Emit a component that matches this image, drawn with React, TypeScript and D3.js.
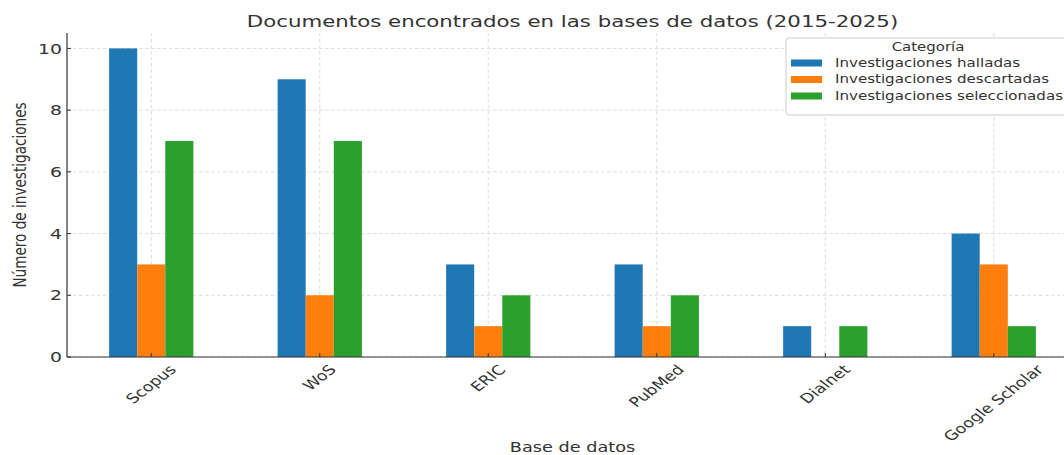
import { useEffect, useRef } from 'react'
import * as d3 from 'd3'

const categories = ['Scopus', 'WoS', 'ERIC', 'PubMed', 'Dialnet', 'Google Scholar']
const seriesNames = [
    'Investigaciones halladas',
    'Investigaciones descartadas',
    'Investigaciones seleccionadas'
]
const halladas = [10, 9, 3, 3, 1, 4]
const descartadas = [3, 2, 1, 1, 0, 3]
const seleccionadas = [7, 7, 2, 2, 1, 1]
const colors = ['#1f77b4', '#ff7f0e', '#2ca02c']
const yTicks = [0, 2, 4, 6, 8, 10]

const W = 1064
const H = 455
// the picture is wider than tall in its text, so glyphs get stretched sideways
const SX = 1.3

export default function App() {
    const svgRef = useRef<SVGSVGElement>(null)

    useEffect(() => {
        if (!svgRef.current) return
        const svg = d3.select(svgRef.current)
        svg.selectAll('*').remove()

        const left = 67, right = 1078, top = 33, bottom = 357
        const font = "'DejaVu Sans', sans-serif"
        const textColor = '#333'

        const x = d3.scaleLinear().domain([-0.5, categories.length - 0.5]).range([left, right])
        const y = d3.scaleLinear().domain([0, 10.5]).range([bottom, top])
        const step = x(1) - x(0)
        const barW = step * 0.5 / 3

        const series = [halladas, descartadas, seleccionadas]

        const addText = (
            parent: d3.Selection<any, unknown, null, undefined>,
            tx: number, ty: number, str: string, size: number,
            anchor = 'start', rot = 0, baseline = 'auto'
        ) => parent.append('text')
            .attr('transform', `translate(${tx},${ty}) scale(${SX},1) rotate(${rot})`)
            .attr('text-anchor', anchor)
            .attr('dominant-baseline', baseline)
            .style('font-family', font).style('font-size', `${size}px`).style('fill', textColor)
            .text(str)

        // grid
        svg.append('g')
            .selectAll('line')
            .data(yTicks)
            .enter()
            .append('line')
            .attr('x1', left).attr('x2', right)
            .attr('y1', d => y(d)).attr('y2', d => y(d))
            .attr('stroke', '#d3d3d3').attr('stroke-dasharray', '3.5,2.5').attr('stroke-width', 0.8)
        svg.append('g')
            .selectAll('line')
            .data(categories)
            .enter()
            .append('line')
            .attr('x1', (d, i) => x(i)).attr('x2', (d, i) => x(i))
            .attr('y1', top).attr('y2', bottom)
            .attr('stroke', '#d3d3d3').attr('stroke-dasharray', '3.5,2.5').attr('stroke-width', 0.8)

        // bars
        series.forEach((vals, s) => {
            svg.append('g')
                .selectAll('rect')
                .data(vals)
                .enter()
                .append('rect')
                .attr('x', (d, i) => x(i) - 1.5 * barW + s * barW)
                .attr('y', d => y(d))
                .attr('width', barW)
                .attr('height', d => y(0) - y(d))
                .attr('fill', colors[s])
        })

        // spines
        svg.append('line')
            .attr('x1', left).attr('x2', left).attr('y1', top).attr('y2', bottom)
            .attr('stroke', '#333').attr('stroke-width', 1.2)
        svg.append('line')
            .attr('x1', left).attr('x2', right).attr('y1', bottom).attr('y2', bottom)
            .attr('stroke', '#333').attr('stroke-width', 1.2)

        // y ticks
        const yt = svg.append('g')
        yTicks.forEach(t => {
            yt.append('line')
                .attr('x1', left).attr('x2', left + 4).attr('y1', y(t)).attr('y2', y(t))
                .attr('stroke', '#333')
            addText(yt, left - 5, y(t), String(t), 14.5, 'end', 0, 'central')
        })

        // x ticks
        const xt = svg.append('g')
        const xf = 13.4
        categories.forEach((c, i) => {
            xt.append('line')
                .attr('x1', x(i)).attr('x2', x(i)).attr('y1', bottom).attr('y2', bottom - 4)
                .attr('stroke', '#333')
            const label = addText(xt, x(i), 0, c, xf, 'middle', -45, 'central')
            const w = (label.node() as SVGTextElement).getComputedTextLength()
            const half = (w + 0.95 * xf) * Math.SQRT1_2 / 2
            label.attr('transform', `translate(${x(i)},${bottom + 6 + half}) scale(${SX},1) rotate(-45)`)
        })

        // titles
        addText(svg, (left + right) / 2, 27, 'Documentos encontrados en las bases de datos (2015-2025)', 16.4, 'middle')
        addText(svg, (left + right) / 2, 452, 'Base de datos', 13.6, 'middle')
        addText(svg, 20, (top + bottom) / 2, 'Número de investigaciones', 13.6, 'middle', -90, 'central')

        // legend
        const lg = svg.append('g').attr('transform', 'translate(786,38)')
        lg.append('rect')
            .attr('x', 0).attr('y', 0).attr('width', 300).attr('height', 77)
            .attr('rx', 3)
            .attr('fill', 'white').attr('fill-opacity', 0.85)
            .attr('stroke', '#ccc')
        addText(lg, 142, 13, 'Categoría', 11.5, 'middle')
        const items = lg.selectAll('.legend-item')
            .data(seriesNames)
            .enter()
            .append('g')
            .attr('class', 'legend-item')
            .attr('transform', (d, i) => `translate(0, ${25 + i * 16.5})`)
        items.append('rect')
            .attr('x', 5).attr('y', -3.5).attr('width', 31).attr('height', 7)
            .attr('fill', (d, i) => colors[i])
        items.each(function (d) {
            addText(d3.select(this) as any, 49, 0, d as string, 11.6, 'start', 0, 'central')
        })
    }, [])

    return (
        <svg
            ref={svgRef}
            width={W}
            height={H}
            style={{ position: 'absolute', left: 0, top: 0, background: 'white' }}
        />
    )
}
